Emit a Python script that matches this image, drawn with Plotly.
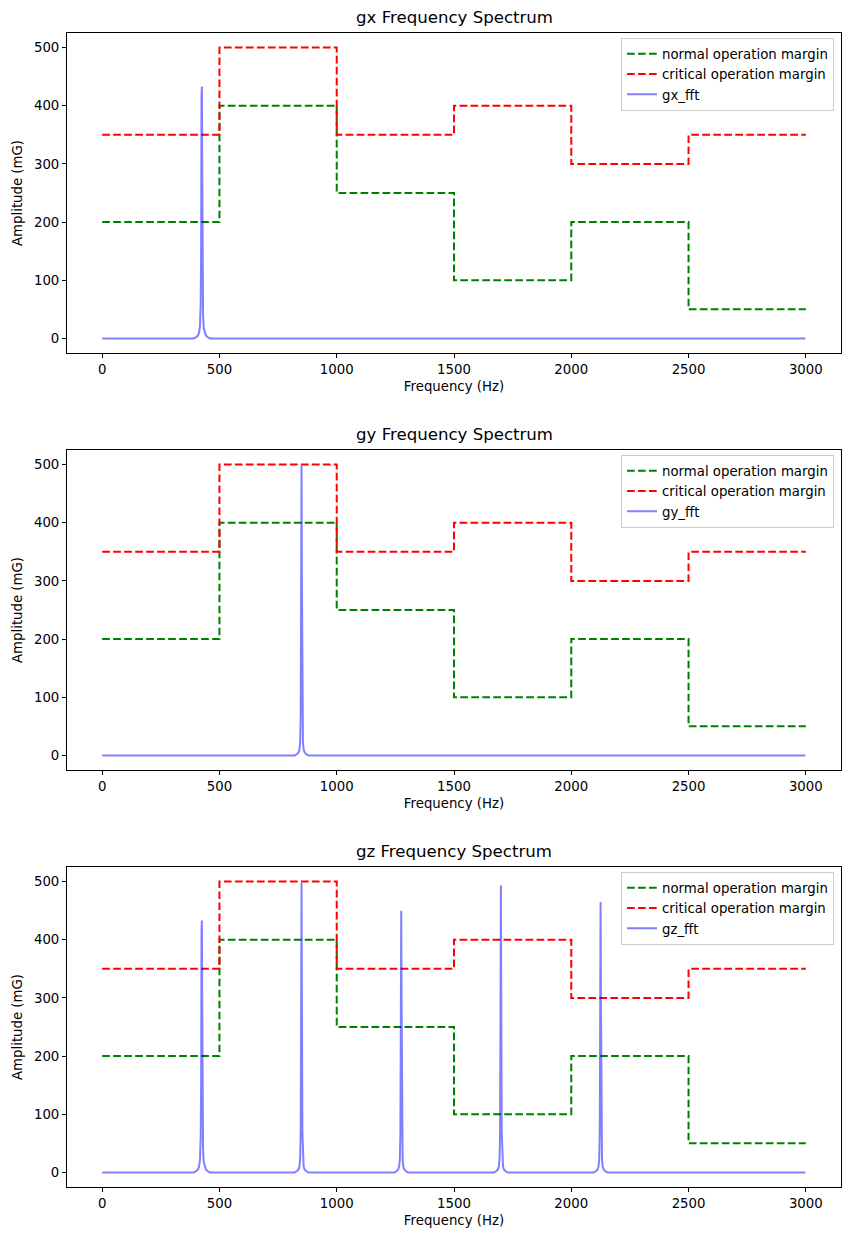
import plotly.graph_objects as go

# ---- data ----
margin_freq = [0, 500, 1000, 1500, 2000, 2500, 3000]
normal_margin = [200, 400, 250, 100, 200, 50, 50]
critical_margin = [350, 500, 350, 400, 300, 350, 350]

gx_freq = [0, 390, 400, 408, 413, 417, 420, 422, 423.5, 425, 426.5, 428, 430, 433, 437, 442, 450, 460, 2998]
gx_amp = [0, 0, 2, 5, 10, 22, 60, 160, 415, 433, 300, 110, 40, 18, 9, 5, 2, 0, 0]

gy_freq = [0, 820, 830, 837, 841, 844, 846.5, 848.5, 850, 851.5, 853.5, 856, 859, 863, 870, 880, 2998]
gy_amp = [0, 0, 2, 5, 10, 22, 70, 300, 498, 300, 70, 22, 10, 5, 2, 0, 0]

gz_freq = [0,
           390, 400, 408, 413, 417, 420, 422, 423.5, 425, 426.5, 428, 430, 433, 437, 442, 450, 460,
           820, 830, 837, 841, 844, 846.5, 848.5, 850, 851.5, 853.5, 856, 859, 863, 870, 880,
           1245, 1255, 1262, 1266, 1269, 1271.5, 1273.5, 1275, 1276.5, 1278.5, 1281, 1284, 1288, 1295, 1305,
           1670, 1680, 1687, 1691, 1694, 1696.5, 1698.5, 1700, 1701.5, 1703.5, 1706, 1709, 1713, 1720, 1730,
           2095, 2105, 2112, 2116, 2119, 2121.5, 2123.5, 2125, 2126.5, 2128.5, 2131, 2134, 2138, 2145, 2155,
           2998]
gz_amp = [0,
          0, 2, 5, 10, 22, 60, 160, 415, 433, 300, 110, 40, 18, 9, 5, 2, 0,
          0, 2, 5, 10, 22, 70, 300, 498, 300, 70, 22, 10, 5, 2, 0,
          0, 2, 5, 10, 22, 70, 390, 450, 300, 70, 22, 10, 5, 2, 0,
          0, 2, 5, 10, 22, 70, 300, 493, 300, 70, 22, 10, 5, 2, 0,
          0, 2, 5, 10, 22, 70, 370, 465, 300, 70, 22, 10, 5, 2, 0,
          0]

series = [("gx", gx_freq, gx_amp), ("gy", gy_freq, gy_amp), ("gz", gz_freq, gz_amp)]

# ---- layout geometry ----
W, H = 850, 1240
ML, MR, MT, MB = 67, 9, 33, 53
plot_h = H - MT - MB
ax_h = 320
gap = 97
domains = []
for i in range(3):
    top = 1 - (i * (ax_h + gap)) / plot_h
    bot = top - ax_h / plot_h
    domains.append([max(bot, 0), min(top, 1)])

fig = go.Figure()
dash = "7.7px,3.3px"
font = "DejaVu Sans, sans-serif"
fs = 13.3

for i, (name, fx, fy) in enumerate(series):
    sfx = "" if i == 0 else str(i + 1)
    xa, ya = "x" + sfx, "y" + sfx
    leg = "legend" + sfx
    fig.add_trace(go.Scatter(x=margin_freq, y=normal_margin, mode="lines", line_shape="hv",
                             line=dict(color="#008000", width=2, dash=dash),
                             name="normal operation margin", xaxis=xa, yaxis=ya, legend=leg))
    fig.add_trace(go.Scatter(x=margin_freq, y=critical_margin, mode="lines", line_shape="hv",
                             line=dict(color="#ff0000", width=2, dash=dash),
                             name="critical operation margin", xaxis=xa, yaxis=ya, legend=leg))
    fig.add_trace(go.Scatter(x=fx, y=fy, mode="lines",
                             line=dict(color="rgba(0,0,255,0.5)", width=2),
                             name=f"{name}_fft", xaxis=xa, yaxis=ya, legend=leg))

    axcommon = dict(showline=True, linecolor="black", linewidth=1, mirror=True,
                    ticks="outside", ticklen=4, tickcolor="black", showgrid=False,
                    zeroline=False, tickfont=dict(size=fs, color="black", family=font))
    fig.update_layout(**{
        "xaxis" + sfx: dict(domain=[0, 1], anchor=ya, range=[-150, 3150],
                            tickvals=[0, 500, 1000, 1500, 2000, 2500, 3000],
                            title=dict(text="Frequency (Hz)", font=dict(size=fs, color="black", family=font),
                                       standoff=5), **axcommon),
        "yaxis" + sfx: dict(domain=domains[i], anchor=xa, range=[-25, 525],
                            tickvals=[0, 100, 200, 300, 400, 500],
                            title=dict(text="Amplitude (mG)", font=dict(size=fs, color="black", family=font),
                                       standoff=8), **axcommon),
        leg: dict(x=0.991, y=domains[i][1] - 0.004, xanchor="right", yanchor="top",
                  bgcolor="rgba(255,255,255,0.8)", bordercolor="#cccccc", borderwidth=1,
                  font=dict(size=fs, color="black", family=font), tracegroupgap=0,
                  itemwidth=30),
    })
    fig.add_annotation(text=f"{name} Frequency Spectrum", x=0.5, xref="paper",
                       y=domains[i][1], yref="paper", yanchor="bottom", yshift=4,
                       showarrow=False, font=dict(size=16.6, color="black", family=font))

fig.update_layout(width=W, height=H, margin=dict(l=ML, r=MR, t=MT, b=MB),
                  paper_bgcolor="white", plot_bgcolor="white", showlegend=True)

fig.write_html("out.html")
